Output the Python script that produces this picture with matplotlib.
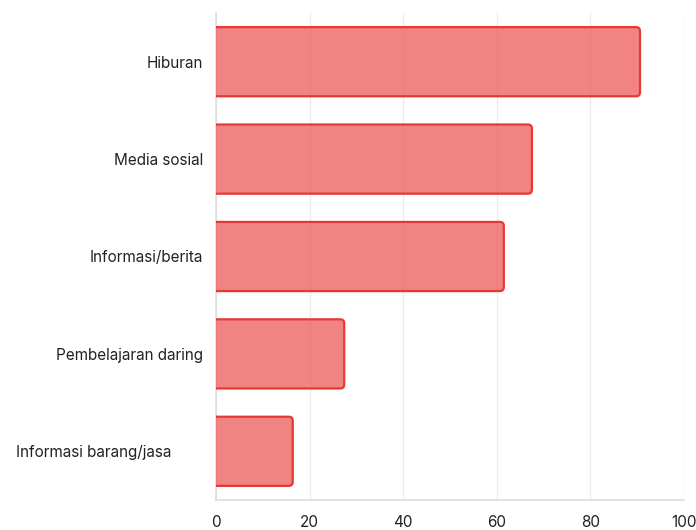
import matplotlib
matplotlib.use("Agg")
import matplotlib.pyplot as plt
from matplotlib.patches import FancyBboxPatch
from matplotlib.transforms import ScaledTranslation

categories = ["Hiburan", "Media sosial", "Informasi/berita", "Pembelajaran daring", "Informasi barang/jasa"]
values = [90.6, 67.5, 61.5, 27.4, 16.4]
xticks = [0, 20, 40, 60, 80, 100]

plt.rcParams['font.family'] = ['Inter', 'DejaVu Sans']

fig = plt.figure(figsize=(6.96, 5.30), dpi=100)
ax = fig.add_axes([216/696, 1-500/530, (684-216)/696, (500-13)/530])

n = len(categories)
ax.set_xlim(0, 100)
ax.set_ylim(n - 0.5, -0.5)

bar_h = 0.71
px_x = (684-216)/100.0
px_y = (500-13)/n
aspect = px_x / px_y
r_px = 4.0
for i, v in enumerate(values):
    p = FancyBboxPatch((-3, i - bar_h/2), v + 3, bar_h,
                       boxstyle=f"round,pad=0,rounding_size={r_px/px_x}",
                       mutation_aspect=aspect,
                       facecolor=(0.925, 0.33, 0.33, 0.72), edgecolor="#e53935", linewidth=1.6, zorder=3)
    ax.add_patch(p)

ax.set_yticks(range(n))
ax.set_yticklabels(categories)
ax.set_xticks(xticks)
ax.set_xticklabels([str(t) for t in xticks])
ax.tick_params(axis='both', length=0, labelsize=11, colors="#222222")
ax.tick_params(axis='y', pad=9.5)
ax.tick_params(axis='x', pad=10.5)

last = ax.get_yticklabels()[-1]
last.set_transform(last.get_transform() + ScaledTranslation(-31/100, 0, fig.dpi_scale_trans))

ax.grid(axis='x', color="#ececec", linewidth=1, zorder=0)
ax.set_axisbelow(True)
for s in ['top', 'right']:
    ax.spines[s].set_visible(False)
for s in ['left', 'bottom']:
    ax.spines[s].set_color("#dddddd")
    ax.spines[s].set_linewidth(1.2)

fig.savefig("out.png", dpi=100)
